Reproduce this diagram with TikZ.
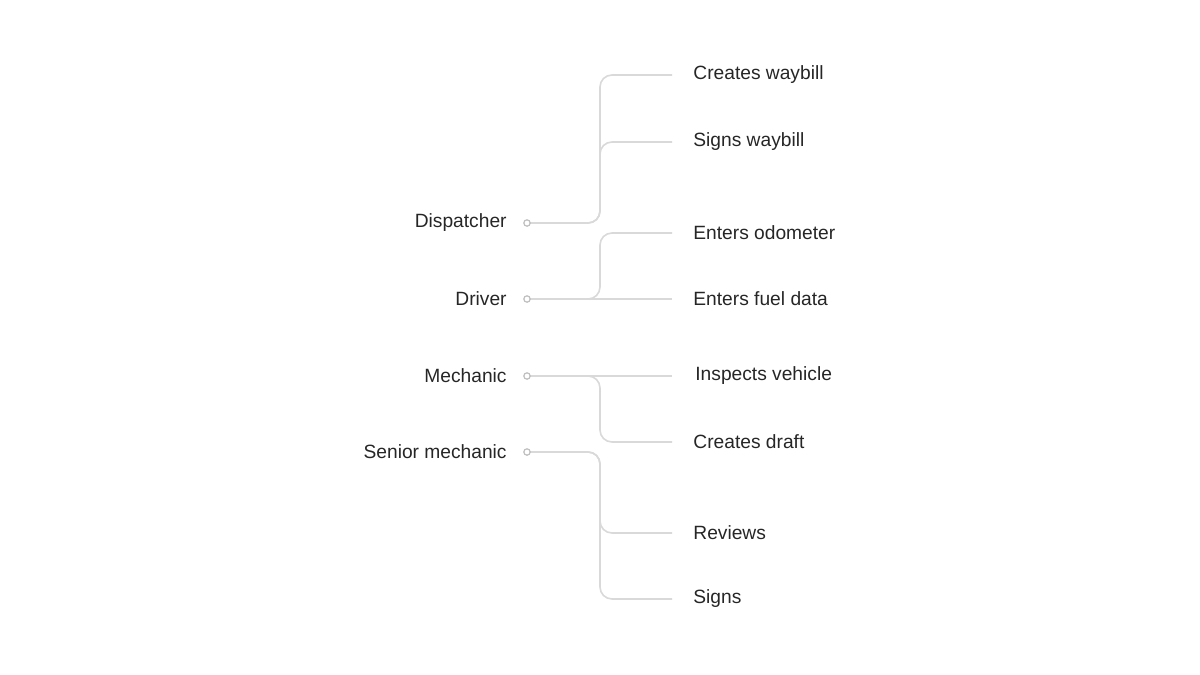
\documentclass[tikz,border=0pt]{standalone}
\usepackage{fontspec}
\setmainfont{Liberation Sans}
\begin{document}
\begin{tikzpicture}[x=0.5pt,y=-0.5pt,
  lbl/.style={font=\fontsize{9.6}{11}\selectfont,text=black!85,inner sep=0},
  ln/.style={draw=black!15,line width=0.8pt,rounded corners=6pt},
  dot/.style={circle,draw=black!25,fill=white,line width=0.6pt,minimum size=3.2pt,inner sep=0}]
\useasboundingbox (0,0) rectangle (1200,675);
% left labels
\node[lbl,anchor=east] (l1) at (507,223) {Dispatcher};
\node[lbl,anchor=east] (l2) at (507,299) {Driver};
\node[lbl,anchor=east] (l3) at (507,376) {Mechanic};
\node[lbl,anchor=east] (l4) at (507,452) {Senior mechanic};
% right labels
\node[lbl,anchor=west] (r1) at (693,75) {Creates waybill};
\node[lbl,anchor=west] (r2) at (693,142) {Signs waybill};
\node[lbl,anchor=west] (r3) at (693,233) {Enters odometer};
\node[lbl,anchor=west] (r4) at (693,299) {Enters fuel data};
\node[lbl,anchor=west] (r5) at (695,376) {Inspects vehicle};
\node[lbl,anchor=west] (r6) at (693,442) {Creates draft};
\node[lbl,anchor=west] (r7) at (693,533) {Reviews};
\node[lbl,anchor=west] (r8) at (693,599) {Signs};
% end coordinates
\foreach \i/\y in {1/75,2/142,3/233,4/299,5/376,6/442,7/533,8/599}
  \coordinate (e\i) at (672,\y);
\foreach \i/\y in {1/223,2/299,3/376,4/452}
  \coordinate (s\i) at (527,\y);
% connectors
\draw[ln] (s1) -- (600,223) -- (600,75) -- (e1);
\draw[ln] (s1) -- (600,223) -- (600,142) -- (e2);
\draw[ln] (s2) -- (e4);
\draw[ln] (s2) -- (600,299) -- (600,233) -- (e3);
\draw[ln] (s3) -- (e5);
\draw[ln] (s3) -- (600,376) -- (600,442) -- (e6);
\draw[ln] (s4) -- (600,452) -- (600,599) -- (e8);
\draw[ln] (s4) -- (600,452) -- (600,533) -- (e7);
\foreach \i in {1,...,4} \node[dot] at (s\i) {};
\end{tikzpicture}
\end{document}
